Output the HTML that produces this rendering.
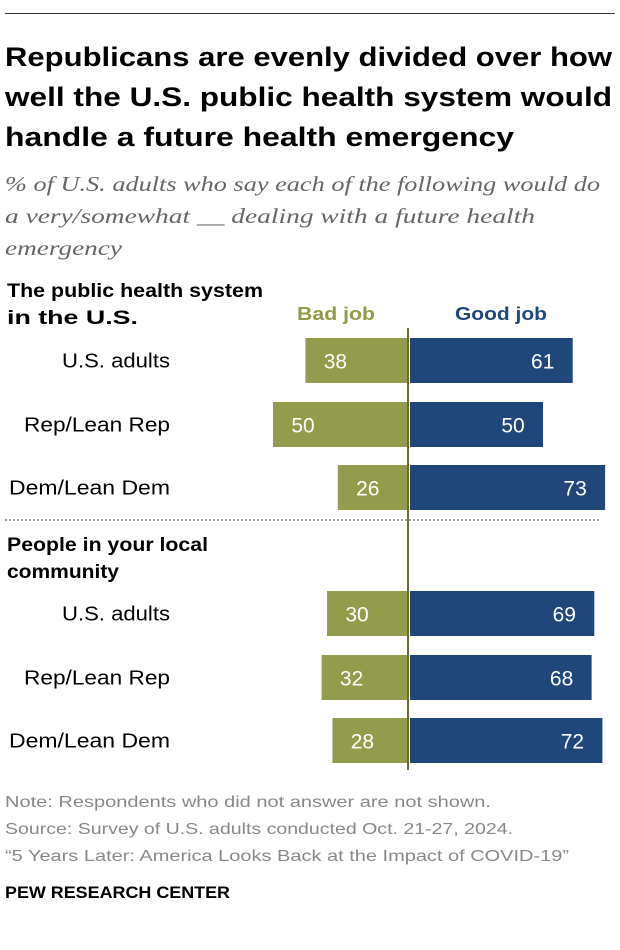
<!DOCTYPE html>
<html><head><meta charset="utf-8"><style>
body{margin:0;background:#fff;font-family:"Liberation Sans",sans-serif;}
#wrap{position:relative;width:620px;height:950px;overflow:hidden;}
</style></head><body>
<div id="wrap">
<svg id="chart" width="620" height="950" style="position:absolute;left:0;top:0"></svg>
</div>
<script>
const groups=["The public health system|in the U.S.","People in your local|community"];
const categories=["U.S. adults","Rep/Lean Rep","Dem/Lean Dem","U.S. adults","Rep/Lean Rep","Dem/Lean Dem"];
const badJob=[38,50,26,30,32,28];
const goodJob=[61,50,73,69,68,72];
const svg=document.getElementById('chart');
const NS='http://www.w3.org/2000/svg';
const cx=408, k=2.7;
const rowY=[338,402,465,591,655,718], barH=45;
function x(v){return v*k;}
function mk(t,a,txt){const e=document.createElementNS(NS,t);for(const n in a)e.setAttribute(n,a[n]);if(txt!=null)e.textContent=txt;svg.appendChild(e);return e;}
function tl(e,w){e.setAttribute('textLength',w);e.setAttribute('lengthAdjust','spacingAndGlyphs');}
let e;
e=mk('line',{x1:5,x2:615,y1:13.5,y2:13.5,stroke:'#333','stroke-width':1});


[["Republicans are evenly divided over how",66,607],["well the U.S. public health system would",106,607],["handle a future health emergency",146,509]].forEach(([s,y,w])=>{
 e=mk('text',{x:5,y:y,'font-size':27,'font-weight':'bold',fill:'#000'},s);tl(e,w);
 
 });
[["% of U.S. adults who say each of the following would do",191,595],["a very/somewhat __ dealing with a future health",223,530],["emergency",255,117]].forEach(([s,y,w])=>{
 e=mk('text',{x:5,y:y,'font-size':21,'font-style':'italic','font-family':'Liberation Serif, serif',fill:'#666'},s);tl(e,w);
 
 });
e=mk('text',{x:297,y:320,'font-size':18,'font-weight':'bold',fill:'#929a48'},'Bad job');tl(e,78);


e=mk('text',{x:455,y:320,'font-size':18,'font-weight':'bold',fill:'#1f477a'},'Good job');tl(e,92);


const headW=[[256,131],[201,112]];
[297,551].forEach((y,gi)=>{groups[gi].split('|').forEach((l,li)=>{
 e=mk('text',{x:7,y:y+li*27,'font-size':19,'font-weight':'bold',fill:'#000'},l);tl(e,headW[gi][li]);
 
 });});
e=mk('line',{x1:5,x2:600,y1:520,y2:520,stroke:'#999','stroke-width':2,'stroke-dasharray':'2,2'});


const catW={"U.S. adults":108,"Rep/Lean Rep":146,"Dem/Lean Dem":161};
categories.forEach((c,i)=>{
 const y=rowY[i];
 e=mk('text',{x:170-catW[c],y:y+barH/2+7,'font-size':20,fill:'#000'},c);tl(e,catW[c]);
 
 
 e=mk('rect',{x:cx-x(badJob[i]),y:y,width:x(badJob[i]),height:barH,fill:'#939c4b'});
 
 
 e=mk('rect',{x:cx+2,y:y,width:x(goodJob[i])-2,height:barH,fill:'#1f477a'});
 
 
 e=mk('text',{x:cx-x(badJob[i])+30,y:y+barH/2+8,'font-size':21,fill:'#fff','text-anchor':'middle'},badJob[i]);
 
 
 e=mk('text',{x:cx+x(goodJob[i])-30,y:y+barH/2+8,'font-size':21,fill:'#fff','text-anchor':'middle'},goodJob[i]);
 
 
});
e=mk('line',{x1:cx,x2:cx,y1:328,y2:770,stroke:'#6b6b3a','stroke-width':2});


[["Note: Respondents who did not answer are not shown.",807,486],["Source: Survey of U.S. adults conducted Oct. 21-27, 2024.",834,508],["“5 Years Later: America Looks Back at the Impact of COVID-19”",861,564]].forEach(([s,y,w])=>{
 e=mk('text',{x:5,y:y,'font-size':16,fill:'#888'},s);tl(e,w);
 
 });
e=mk('text',{x:5,y:898,'font-size':17,'font-weight':'bold',fill:'#000'},'PEW RESEARCH CENTER');tl(e,225);


</script>
</body></html>
